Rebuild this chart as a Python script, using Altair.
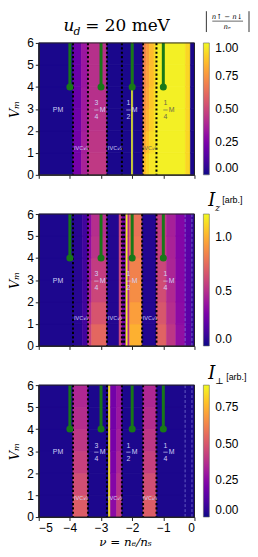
import altair as alt
import pandas as pd

W, H = 157, 133
V_ROWS = [0, 1, 2, 3, 4, 5, 6]

# ---------- panel 1: |n_up - n_down| / n_e ----------  (each column: values for V 0-1 ... 5-6)
p1_edges = [-5.0, -3.9, -3.63, -3.42, -2.81, -2.02, -1.97, -1.65, -1.55, -1.45, -1.3, -1.22, -0.29, -0.13, 0.0]
p1_cols = [
    [0.02] * 6,
    [0.23, 0.22, 0.21, 0.20, 0.20, 0.20],
    [0.37, 0.36, 0.35, 0.34, 0.33, 0.33],
    [0.45, 0.44, 0.43, 0.42, 0.42, 0.42],
    [0.02] * 6,
    [1.0] * 6,
    [0.02] * 6,
    [0.86, 0.80, 0.76, 0.73, 0.71, 0.70],
    [0.92, 0.87, 0.83, 0.80, 0.78, 0.77],
    [0.96, 0.93, 0.90, 0.88, 0.86, 0.85],
    [0.97, 0.96, 0.95, 0.93, 0.92, 0.92],
    [0.98] * 6,
    [0.92] * 6,
    [0.02] * 6,
]
p1_max = 1.0
p1_ticks = [0.0, 0.25, 0.5, 0.75, 1.0]
p1_dots = [-3.9, -3.42, -2.81, -2.33, -1.65, -1.22]
p1_dashes = []

# ---------- panel 2: I_z ----------
p2_edges = [-5.0, -3.9, -3.6, -3.42, -3.3, -2.81, -2.42, -2.33, -2.2, -2.14, -2.08, -1.68, -1.22, -0.9, -0.6, -0.3, -0.1, 0.0]
p2_cols = [
    [0.03] * 6,
    [0.05] * 6,
    [0.12] * 6,
    [0.58, 0.50, 0.44, 0.40, 0.36, 0.34],
    [0.74, 0.66, 0.60, 0.56, 0.52, 0.50],
    [0.04] * 6,
    [0.60] * 6,
    [0.25] * 6,
    [1.18] * 6,
    [0.50] * 6,
    [1.00, 0.94, 0.88, 0.84, 0.80, 0.78],
    [0.04] * 6,
    [0.72, 0.67, 0.63, 0.60, 0.58, 0.57],
    [0.54, 0.50, 0.48, 0.46, 0.45, 0.44],
    [0.37, 0.35, 0.34, 0.33, 0.32, 0.32],
    [0.20] * 6,
    [0.08] * 6,
]
p2_max = 1.21
p2_ticks = [0.0, 0.5, 1.0]
p2_dots = [-3.9, -3.42, -2.81, -2.33, -2.26, -1.68, -1.22]
p2_dashes = [-0.3, -0.08]

# ---------- panel 3: I_perp ----------
p3_edges = [-5.0, -3.9, -3.42, -2.76, -2.70, -2.5, -2.33, -1.65, -1.22, 0.0]
p3_cols = [
    [0.02] * 6,
    [0.52, 0.47, 0.43, 0.40, 0.37, 0.35],
    [0.02] * 6,
    [0.85] * 6,
    [0.26, 0.24, 0.22, 0.21, 0.20, 0.20],
    [0.42, 0.38, 0.35, 0.32, 0.30, 0.29],
    [0.02] * 6,
    [0.52, 0.47, 0.43, 0.40, 0.37, 0.35],
    [0.02] * 6,
]
p3_max = 0.9
p3_ticks = [0.0, 0.25, 0.5, 0.75]
p3_dots = [-3.9, -3.42, -2.81, -2.33, -1.65, -1.22]
p3_dashes = [-0.3, -0.08]

# ---------- annotations ----------
lolli_nu = [-4, -3, -2, -1]
lolli_top = 6
lolli_bot = 4

pm_nu, pm_v = -4.38, 2.95
frac_nu = [-3.15, -2.12, -0.93]
frac_num = ["3", "1", "1"]
frac_den = ["4", "2", "4"]
ivc_nu = [-3.64, -2.55, -1.43]
ivc_text = ["IVC₃⁄₄", "IVC₁⁄₂", "IVC₁⁄₄"]
ivc_v = [1.2, 1.25, 0.85]

LIGHT = "#cfcff5"
DARK = "#6a6a4a"
p1_frac_col = [LIGHT, LIGHT, DARK]
p1_ivc_col = [LIGHT, LIGHT, DARK]
p2_frac_col = [LIGHT, LIGHT, LIGHT]
p2_ivc_col = [LIGHT, LIGHT, LIGHT]
p3_frac_col = [LIGHT, LIGHT, LIGHT]
p3_ivc_col = [LIGHT, LIGHT, LIGHT]

x_ticks = [-5, -4, -3, -2, -1, 0]
y_ticks = [0, 1, 2, 3, 4, 5, 6]


def heat_df(edges, cols):
    rows = []
    for i in range(len(edges) - 1):
        for k in range(6):
            rows.append(dict(nu0=edges[i], nu1=edges[i + 1], v0=V_ROWS[k], v1=V_ROWS[k + 1],
                             val=cols[i][k], sval=cols[i][k]))
    return pd.DataFrame(rows)


xs = alt.Scale(domain=[-5, 0], nice=False, zero=False)
ys = alt.Scale(domain=[0, 6], nice=False, zero=False)


def panel(edges, cols, vmax, ticks, fmt, dots, dashes, frac_col, ivc_col, ivc_vv, bottom, extra):
    df = heat_df(edges, cols)
    if bottom:
        xaxis = alt.Axis(values=x_ticks, grid=False, title="ν = nₑ/nₛ", titleFont="DejaVu Serif",
                         titleFontStyle="italic", titleFontWeight="normal", titleFontSize=12, titlePadding=3,
                         format="d", zindex=1, titleX=87)
    else:
        xaxis = alt.Axis(values=x_ticks, grid=False, labels=False, title=None, zindex=1)
    yaxis = alt.Axis(values=y_ticks, grid=False, title="Vₘ", titleFont="DejaVu Serif",
                     titleFontStyle="italic", titleFontWeight="normal", titleFontSize=13, titlePadding=5, zindex=1)

    def X(f):
        return alt.X(f, scale=xs, axis=xaxis)

    def Y(f):
        return alt.Y(f, scale=ys, axis=yaxis)

    cscale = alt.Scale(scheme="plasma", domain=[0, vmax], clamp=True)
    heat = alt.Chart(df).mark_rect(strokeWidth=0.6).encode(
        x=X("nu0:Q"),
        x2="nu1:Q",
        y=Y("v0:Q"),
        y2="v1:Q",
        color=alt.Color("val:Q", scale=cscale,
                        legend=alt.Legend(title=None, values=ticks, format=fmt, gradientLength=H,
                                          gradientThickness=6, offset=9, labelOffset=6,
                                          labelBaseline="middle", labelFont="Liberation Sans",
                                          labelFontSize=12, gradientStrokeColor="#666",
                                          gradientStrokeWidth=0.6, padding=0, type="gradient")),
        stroke=alt.Stroke("sval:Q", scale=cscale, legend=None),
    )
    layers = [heat]
    ddf = pd.DataFrame({"nu": dots})
    layers.append(alt.Chart(ddf).mark_rule(color="black", strokeWidth=2, strokeDash=[2.2, 2.2]).encode(
        x=X("nu:Q")))
    if dashes:
        sdf = pd.DataFrame({"nu": dashes})
        layers.append(alt.Chart(sdf).mark_rule(color="#8c8ce0", strokeWidth=0.8, strokeDash=[3, 2], opacity=0.8).encode(
            x=X("nu:Q")))
    ldf = pd.DataFrame({"nu": lolli_nu, "vt": [lolli_top] * 4, "vb": [lolli_bot] * 4})
    layers.append(alt.Chart(ldf).mark_rule(color="#187818", strokeWidth=3).encode(
        x=X("nu:Q"), y=Y("vt:Q"), y2="vb:Q"))
    layers.append(alt.Chart(ldf).mark_circle(color="#187818", size=50, opacity=1).encode(
        x=X("nu:Q"), y=Y("vb:Q")))
    # labels
    pdf = pd.DataFrame({"nu": [pm_nu], "v": [pm_v], "t": ["PM"]})
    layers.append(alt.Chart(pdf).mark_text(font="Liberation Sans", fontSize=7, color=LIGHT).encode(
        x=X("nu:Q"), y=Y("v:Q"), text="t:N"))
    fdf = pd.DataFrame({"nu": frac_nu, "num": frac_num, "den": frac_den, "col": frac_col,
                        "vn": [pm_v + 0.3] * 3, "vd": [pm_v - 0.33] * 3, "vb": [pm_v] * 3,
                        "b0": [n - 0.07 for n in frac_nu], "b1": [n + 0.07 for n in frac_nu],
                        "mx": [n + 0.2 for n in frac_nu], "m": ["M"] * 3})
    layers.append(alt.Chart(fdf).mark_text(font="Liberation Sans", fontSize=7).encode(
        x=X("nu:Q"), y=Y("vn:Q"), text="num:N", fill=alt.Fill("col:N", scale=None)))
    layers.append(alt.Chart(fdf).mark_text(font="Liberation Sans", fontSize=7).encode(
        x=X("nu:Q"), y=Y("vd:Q"), text="den:N", fill=alt.Fill("col:N", scale=None)))
    layers.append(alt.Chart(fdf).mark_rule(strokeWidth=0.7).encode(
        x=X("b0:Q"), x2="b1:Q", y=Y("vb:Q"), stroke=alt.Stroke("col:N", scale=None)))
    layers.append(alt.Chart(fdf).mark_text(font="Liberation Sans", fontSize=7).encode(
        x=X("mx:Q"), y=Y("vb:Q"), text="m:N", fill=alt.Fill("col:N", scale=None)))
    idf = pd.DataFrame({"nu": ivc_nu, "t": ivc_text, "col": ivc_col, "v": [ivc_vv] * 3})
    layers.append(alt.Chart(idf).mark_text(font="DejaVu Sans", fontSize=5.5).encode(
        x=X("nu:Q"), y=Y("v:Q"), text="t:N", fill=alt.Fill("col:N", scale=None)))
    # frame
    frame_df = pd.DataFrame({"k": [0]})
    layers.append(alt.Chart(frame_df).mark_rect(fillOpacity=0, stroke="#222", strokeWidth=1).encode(
        x=alt.value(0), x2=alt.value(W), y=alt.value(0), y2=alt.value(H)))
    layers.extend(extra)
    return alt.layer(*layers).resolve_scale(stroke="independent").properties(width=W, height=H)


def txt(t, x, y, size, font="DejaVu Serif", style="italic", align="left", baseline="alphabetic"):
    d = pd.DataFrame({"t": [t]})
    return alt.Chart(d).mark_text(font=font, fontSize=size, fontStyle=style, align=align, baseline=baseline,
                                  color="black").encode(x=alt.value(x), y=alt.value(y), text="t:N")


def vline(x, y0, y1, w=0.8):
    d = pd.DataFrame({"k": [0]})
    return alt.Chart(d).mark_rule(color="black", strokeWidth=w).encode(x=alt.value(x), y=alt.value(y0), y2=alt.value(y1))


def hline(x0, x1, y, w=0.6):
    d = pd.DataFrame({"k": [0]})
    return alt.Chart(d).mark_rule(color="black", strokeWidth=w).encode(x=alt.value(x0), x2=alt.value(x1), y=alt.value(y))


extra1 = [
    txt("u", 25, -12, 17),
    txt("d", 35, -8, 11),
    txt("= 20  meV", 47, -12, 17, style="normal"),
    vline(169, -32, -11),
    vline(212, -32, -11),
    txt("n↑ − n↓", 190, -24, 7, align="center"),
    hline(175, 206, -22),
    txt("nₑ", 190, -14, 7, align="center"),
]
extra2 = [
    txt("I", 171, -8, 18),
    txt("z", 178, -3, 9),
    txt("[arb.]", 185, -11, 9, font="Liberation Sans", style="normal"),
]
extra3 = [
    txt("I", 171, -6, 18),
    txt("⊥", 178, -1, 9, style="normal"),
    txt("[arb.]", 189, -5, 9, font="Liberation Sans", style="normal"),
]

c1 = panel(p1_edges, p1_cols, p1_max, p1_ticks, ".2f", p1_dots, p1_dashes, p1_frac_col, p1_ivc_col, ivc_v[0], False, extra1)
c2 = panel(p2_edges, p2_cols, p2_max, p2_ticks, ".1f", p2_dots, p2_dashes, p2_frac_col, p2_ivc_col, ivc_v[1], False, extra2)
c3 = panel(p3_edges, p3_cols, p3_max, p3_ticks, ".2f", p3_dots, p3_dashes, p3_frac_col, p3_ivc_col, ivc_v[2], True, extra3)

chart = alt.vconcat(c1, c2, c3, spacing=39.5, bounds="flush", padding=0).resolve_scale(
    color="independent", stroke="independent").configure_view(
    stroke=None).configure_axis(
    domainColor="#222", tickColor="#222", tickSize=3.5, labelFont="Liberation Sans", labelFontSize=12,
    labelColor="black", labelPadding=2, titleColor="black")

chart.save("out.html", embed_options={"renderer": "svg", "actions": False})
